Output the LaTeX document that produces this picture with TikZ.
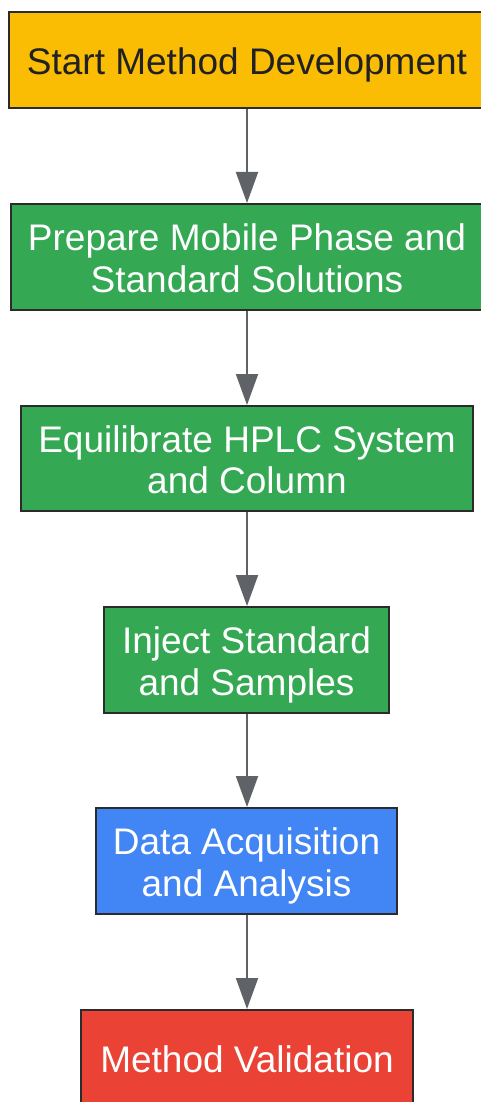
\documentclass[tikz,border=0pt]{standalone}
\usepackage{fontspec}
\setmainfont{Liberation Sans}
\usetikzlibrary{arrows.meta}
\definecolor{cyellow}{HTML}{FBBC04}
\definecolor{cgreen}{HTML}{34A853}
\definecolor{cblue}{HTML}{4285F4}
\definecolor{cred}{HTML}{EA4335}
\definecolor{cborder}{HTML}{2B2B2B}
\definecolor{carrow}{HTML}{5F6368}
\definecolor{cdark}{HTML}{202124}
\newcommand\myTop{\rule{0pt}{39pt}}
\newcommand\myBot{\rule[-10pt]{0pt}{10pt}}
\tikzset{
  box/.style={draw=cborder, line width=2pt, inner sep=0pt, align=center,
    font=\fontsize{37}{41.7}\selectfont, text=white},
  flow/.style={draw=carrow, line width=2pt, -{Triangle[length=31pt,width=22pt]}}
}
\begin{document}
\begin{tikzpicture}[x=1pt,y=1pt]
\useasboundingbox (0,0) rectangle (480,-1102);
\node[box, fill=cyellow, text=cdark, minimum width=476, minimum height=96] (n1) at (247,-60) {\myTop\myBot Start Method Development};
\node[box, fill=cgreen, minimum width=472, minimum height=106] (n2) at (247,-257) {\myTop Prepare Mobile Phase and\\\myBot Standard Solutions};
\node[box, fill=cgreen, minimum width=452, minimum height=105] (n3) at (247,-458.5) {\myTop Equilibrate HPLC System\\\myBot and Column};
\node[box, fill=cgreen, minimum width=285, minimum height=106] (n4) at (246.5,-660) {\myTop Inject Standard\\\myBot and Samples};
\node[box, fill=cblue, minimum width=301, minimum height=106] (n5) at (246.5,-861) {\myTop Data Acquisition\\\myBot and Analysis};
\node[box, fill=cred, minimum width=332, minimum height=96] (n6) at (247,-1058) {\myTop\myBot Method Validation};
\draw[flow] (n1.south -| 247,0) -- (n2.north -| 247,0);
\draw[flow] (n2.south -| 247,0) -- (n3.north -| 247,0);
\draw[flow] (n3.south -| 247,0) -- (n4.north -| 247,0);
\draw[flow] (n4.south -| 247,0) -- (n5.north -| 247,0);
\draw[flow] (n5.south -| 247,0) -- (n6.north -| 247,0);
\end{tikzpicture}
\end{document}
